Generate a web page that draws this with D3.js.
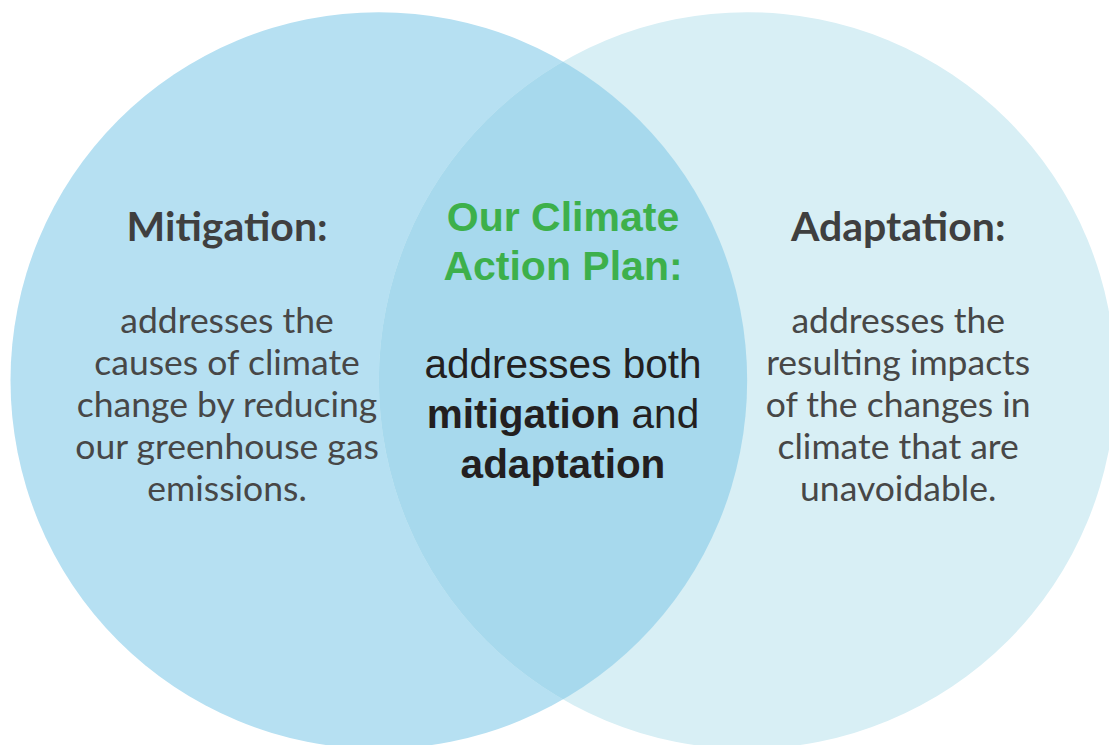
<!DOCTYPE html>
<html>
<head>
<meta charset="utf-8">
<script src="https://cdn.jsdelivr.net/npm/d3@7"></script>
<style>
  html, body { margin: 0; padding: 0; background: #fff; }
  svg { display: block; }
</style>
</head>
<body>
<div id="chart"></div>
<script>
// sets: centre (unit space), radius, colour
const setNames = ["Mitigation", "Adaptation"];
const setCentres = [-0.5, 0.5];
const setRadius = 1;
const setColours = ["#b6e0f2", "#d8eff5"];
const overlapColour = "#a7d9ed";

// labels
const sideTitles = ["Mitigation:", "Adaptation:"];
const sideLabelX = [-0.912, 0.91];
const sideBodies = [
    ["addresses the", "causes of climate", "change by reducing", "our greenhouse gas", "emissions."],
    ["addresses the", "resulting impacts", "of the changes in", "climate that are", "unavoidable."]
];
const centreTitle = ["Our Climate", "Action Plan:"];
const centreBody = [
    [["addresses both", false]],
    [["mitigation", true], [" and", false]],
    [["adaptation", true]]
];

const width = 1109, height = 745;

const svg = d3.select("#chart")
    .append("svg")
    .attr("width", width)
    .attr("height", height);

// unit space -> pixels
const x = d3.scaleLinear().domain([-1.5, 1.5]).range([10.5, 1115.5]);
const y = d3.scaleLinear().domain([-1, 1]).range([12, 749]);
const rpx = (r) => x(r) - x(0);

// circles
svg.selectAll(".set")
    .data(setNames)
    .enter()
    .append("circle")
    .attr("class", "set")
    .attr("cx", (d, i) => x(setCentres[i]))
    .attr("cy", y(0))
    .attr("r", rpx(setRadius))
    .style("fill", (d, i) => setColours[i]);

// overlap region: right circle clipped by left one
svg.append("clipPath")
    .attr("id", "clip-left")
    .append("circle")
    .attr("cx", x(setCentres[0]))
    .attr("cy", y(0))
    .attr("r", rpx(setRadius));

svg.append("circle")
    .attr("clip-path", "url(#clip-left)")
    .attr("cx", x(setCentres[1]))
    .attr("cy", y(0))
    .attr("r", rpx(setRadius))
    .style("fill", overlapColour);

// side texts
const sideFont = "Lato, 'Open Sans', sans-serif";
sideTitles.forEach((t, i) => {
    const g = svg.append("g");
    g.append("text")
        .text(t)
        .attr("x", x(sideLabelX[i]))
        .attr("y", 241)
        .attr("text-anchor", "middle")
        .style("font-family", sideFont)
        .style("font-weight", 700)
        .style("font-size", "41px")
        .style("fill", "#3f3f3f");

    g.selectAll(".body")
        .data(sideBodies[i])
        .enter()
        .append("text")
        .text(d => d)
        .attr("x", x(sideLabelX[i]))
        .attr("y", (d, j) => 333 + j * 42)
        .attr("text-anchor", "middle")
        .style("font-family", sideFont)
        .style("font-size", "35.5px")
        .style("fill", "#474747");
});

// centre text
const centreFont = "'Liberation Sans', Arial, sans-serif";
svg.selectAll(".ctitle")
    .data(centreTitle)
    .enter()
    .append("text")
    .text(d => d)
    .attr("x", x(0))
    .attr("y", (d, i) => 231 + i * 49)
    .attr("text-anchor", "middle")
    .style("font-family", centreFont)
    .style("font-weight", 700)
    .style("font-size", "41px")
    .style("fill", "#3db04b");

centreBody.forEach((parts, i) => {
    const t = svg.append("text")
        .attr("x", x(0))
        .attr("y", 378 + i * 50)
        .attr("text-anchor", "middle")
        .style("font-family", centreFont)
        .style("font-size", "40.5px")
        .style("fill", "#231f20");
    parts.forEach(p => {
        t.append("tspan")
            .text(p[0])
            .style("font-weight", p[1] ? 700 : 400)
            .style("white-space", "pre");
    });
});
</script>
</body>
</html>
